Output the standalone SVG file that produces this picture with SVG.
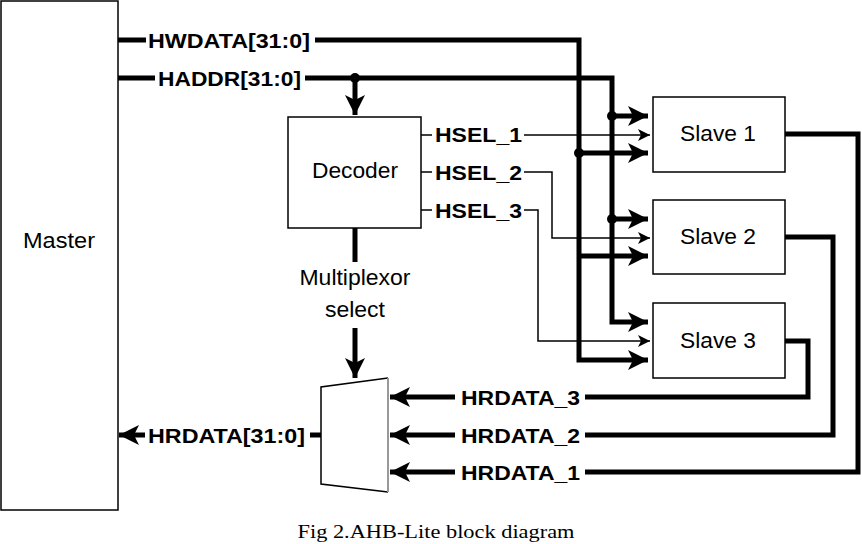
<svg xmlns="http://www.w3.org/2000/svg" width="862" height="544" viewBox="0 0 862 544">
<style>
.box{fill:#fff;stroke:#000;stroke-width:1.5}
.thick{fill:none;stroke:#000;stroke-width:5}
.thin{fill:none;stroke:#000;stroke-width:1.5}
.lbl{font-family:"Liberation Sans",Arial,sans-serif;font-weight:bold;font-size:21px;fill:#000}
.nm{font-family:"Liberation Sans",Arial,sans-serif;font-size:22px;fill:#000;text-anchor:middle}
</style>
<defs>
<marker id="ah" markerUnits="userSpaceOnUse" markerWidth="22" markerHeight="22" refX="20" refY="10" orient="auto"><path d="M0,0 L20,10 L0,20 L5,10 Z" fill="#000"/></marker>
<marker id="at" markerUnits="userSpaceOnUse" markerWidth="14" markerHeight="14" refX="12" refY="6" orient="auto"><path d="M0,0 L12,6 L0,12 L3,6 Z" fill="#000"/></marker>
</defs>
<g id="master"><rect class="box" x="1" y="1" width="117" height="509"/><text class="nm" x="59" y="248" textLength="72" lengthAdjust="spacingAndGlyphs">Master</text></g>
<g id="decoder"><rect class="box" x="288" y="117" width="133" height="111"/><text class="nm" x="355" y="178" textLength="86" lengthAdjust="spacingAndGlyphs">Decoder</text></g>
<g id="slave1"><rect class="box" x="653" y="97" width="132" height="75"/><text class="nm" x="718" y="141" textLength="76" lengthAdjust="spacingAndGlyphs">Slave 1</text></g>
<g id="slave2"><rect class="box" x="653" y="200" width="132" height="74"/><text class="nm" x="718" y="244" textLength="76" lengthAdjust="spacingAndGlyphs">Slave 2</text></g>
<g id="slave3"><rect class="box" x="653" y="303" width="132" height="75"/><text class="nm" x="718" y="348" textLength="76" lengthAdjust="spacingAndGlyphs">Slave 3</text></g>
<g id="mux"><path d="M388,378 L321,387 L321,484 L388,492" fill="#fff" stroke="#000" stroke-width="1.5"/><line x1="388" y1="378" x2="388" y2="492" stroke="#999" stroke-width="2"/></g>
<g id="connectors">
<path class="thick" d="M118,40 H146 M315,40 H579 V360 H648" marker-end="url(#ah)"/>
<path class="thick" d="M118,78 H155 M305,78 H612 V322 H648" marker-end="url(#ah)"/>
<path class="thick" d="M355,78 V115" marker-end="url(#ah)"/>
<path class="thick" d="M612,116 H648" marker-end="url(#ah)"/>
<path class="thick" d="M612,219 H648" marker-end="url(#ah)"/>
<path class="thick" d="M579,153 H648" marker-end="url(#ah)"/>
<path class="thick" d="M579,256 H648" marker-end="url(#ah)"/>
<circle cx="355" cy="78" r="5"/><circle cx="612" cy="116" r="5"/><circle cx="612" cy="219" r="5"/><circle cx="579" cy="153" r="5"/>
<path class="thin" d="M421,135 H432 M421,172 H432 M421,210 H432"/>
<path class="thin" d="M524,135 H650" marker-end="url(#at)"/>
<path class="thin" d="M524,172 H552 V238 H650" marker-end="url(#at)"/>
<path class="thin" d="M524,210 H538 V341 H650" marker-end="url(#at)"/>
<path class="thick" d="M355,228 V262"/>
<path class="thick" d="M355,328 V378" marker-end="url(#ah)"/>
<path class="thick" d="M785,341 H808 V397 H585 M455,397 H390" marker-end="url(#ah)"/>
<path class="thick" d="M785,237 H833 V435 H585 M455,435 H390" marker-end="url(#ah)"/>
<path class="thick" d="M785,134 H858 V472 H585 M455,472 H390" marker-end="url(#ah)"/>
<path class="thick" d="M321,435 H310 M145,435 H119" marker-end="url(#ah)"/>
</g>
<g id="labels">
<text class="lbl" x="148" y="48" textLength="162" lengthAdjust="spacingAndGlyphs">HWDATA[31:0]</text>
<text class="lbl" x="158" y="86" textLength="143" lengthAdjust="spacingAndGlyphs">HADDR[31:0]</text>
<text class="lbl" x="435" y="142" textLength="87" lengthAdjust="spacingAndGlyphs">HSEL_1</text>
<text class="lbl" x="435" y="180" textLength="87" lengthAdjust="spacingAndGlyphs">HSEL_2</text>
<text class="lbl" x="435" y="218" textLength="87" lengthAdjust="spacingAndGlyphs">HSEL_3</text>
<text class="nm" x="355" y="285" textLength="111" lengthAdjust="spacingAndGlyphs">Multiplexor</text>
<text class="nm" x="355" y="317" textLength="60" lengthAdjust="spacingAndGlyphs">select</text>
<text class="lbl" x="461" y="405" textLength="119" lengthAdjust="spacingAndGlyphs">HRDATA_3</text>
<text class="lbl" x="461" y="443" textLength="119" lengthAdjust="spacingAndGlyphs">HRDATA_2</text>
<text class="lbl" x="461" y="480" textLength="119" lengthAdjust="spacingAndGlyphs">HRDATA_1</text>
<text class="lbl" x="148" y="443" textLength="157" lengthAdjust="spacingAndGlyphs">HRDATA[31:0]</text>
<text x="436" y="538" font-family="Liberation Serif,serif" font-size="19" text-anchor="middle" textLength="277" lengthAdjust="spacingAndGlyphs">Fig 2.AHB-Lite block diagram</text>
</g>
</svg>
